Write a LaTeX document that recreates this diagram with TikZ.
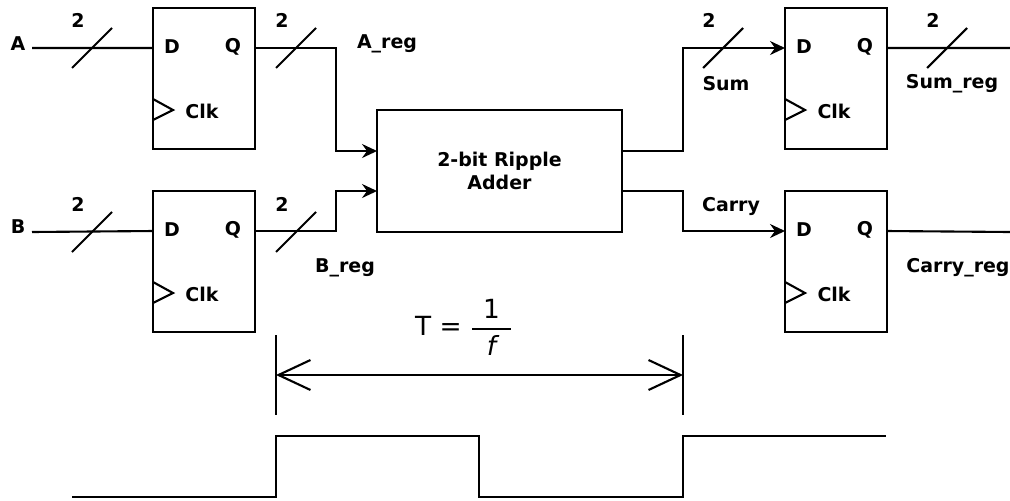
\documentclass[tikz,border=0pt]{standalone}
\usepackage{fontspec}
\usepackage{amsmath}
\setmainfont{DejaVu Sans}
\usetikzlibrary{arrows.meta,positioning,calc}

\tikzset{
  wire/.style={line width=1.2pt},
  ff/.style={draw, line width=1.2pt, minimum width=2.04cm, minimum height=2.82cm, inner sep=0pt, outer sep=0pt},
  lbl/.style={font=\bfseries\fontsize{10.8}{13}\selectfont, inner sep=1pt},
  tip/.style={-{Stealth[length=3mm,width=2.8mm,inset=1mm]}},
  busslash/.pic={
    \draw[wire] (-20,20) -- (20,-20);
    \node[lbl] (-n) at (-14,-28) {2};
  }
}

\begin{document}
\begin{tikzpicture}[x=0.02cm, y=-0.02cm]
\useasboundingbox (0,0) rectangle (1010,500);

    % registers
    \node[ff] (ffa) at (204,78.5) {};
    \node[ff] (ffb) at (204,261.5) {};
    \node[ff] (ffs) at (836,78.5) {};
    \node[ff] (ffc) at (836,261.5) {};

    \foreach \f in {ffa,ffb,ffs,ffc} {
      \node[lbl] (\f-d) at ($(\f.north west)+(19,39)$) {D};
      \node[lbl] (\f-q) at ($(\f.north west)+(80,39)$) {Q};
      \node[lbl] (\f-clk) at ($(\f.north west)+(49,103)$) {Clk};
      \draw[wire] ($(\f.north west)+(0,91)$) -- ++(20,11) -- ++(-20,10);
      \coordinate (\f-din) at ($(\f.north west)+(0,40)$);
      \coordinate (\f-qout) at ($(\f.north east)+(0,40)$);
    }

    % adder
    \node[draw, line width=1.2pt, minimum width=4.9cm, minimum height=2.44cm, outer sep=0pt,
          align=center, font=\bfseries\fontsize{10.8}{13}\selectfont] (add) at (499.5,171)
          {2-bit Ripple\\Adder};
    \coordinate (add-a) at ($(add.north west)+(0,41)$);
    \coordinate (add-b) at ($(add.north west)+(0,81)$);
    \coordinate (add-s) at ($(add.north east)+(0,41)$);
    \coordinate (add-c) at ($(add.north east)+(0,81)$);

    % inputs
    \node[lbl] (a) at (18,44) {A};
    \node[lbl] (b) at (18,227) {B};
    \coordinate (a-in) at (32,48);
    \coordinate (b-in) at (32,232);
    \draw[wire] (a-in) -- (ffa-din);
    \draw[wire] (b-in) -- (ffb-din);
    \pic (sa) at (92,48) {busslash};
    \pic (sb) at (92,232) {busslash};

    % registers -> adder
    \draw[wire, tip] (ffa-qout) -- ++(81,0) |- (add-a);
    \draw[wire, tip] (ffb-qout) -- ++(81,0) |- (add-b);
    \pic (sar) at (296,48) {busslash};
    \pic (sbr) at (296,232) {busslash};
    \node[lbl] (areg) at (387,44) {A\_reg};
    \node[lbl] (breg) at (345,268) {B\_reg};

    % adder -> registers
    \draw[wire, tip] (add-s) -- ++(61,0) |- (ffs-din);
    \draw[wire, tip] (add-c) -- ++(61,0) |- (ffc-din);
    \pic (ss) at (723,48) {busslash};
    \node[lbl] (sum) at (726,84) {Sum};
    \node[lbl] (carry) at (731,207) {Carry};

    % outputs
    \coordinate (sreg-out) at (1010,48);
    \coordinate (creg-out) at (1010,232);
    \draw[wire] (ffs-qout) -- (sreg-out);
    \draw[wire] (ffc-qout) -- (creg-out);
    \pic (ssr) at (947,48) {busslash};
    \node[lbl] (sumreg) at (952,84) {Sum\_reg};
    \node[lbl] (carryreg) at (958,268) {Carry\_reg};

    % period
    \coordinate (t1) at (276,335);
    \coordinate (t2) at (683,335);
    \draw[wire] (t1) -- ++(0,80);
    \draw[wire] (t2) -- ++(0,80);
    \coordinate (tl) at (276,375);
    \coordinate (tr) at (683,375);
    \draw[wire, {Straight Barb[length=6.4mm,width=6mm]}-{Straight Barb[length=6.4mm,width=6mm]}] (tl) -- (tr);
    \node[font=\fontsize{15}{17}\selectfont] (period) at (464,327)
      {T = $\genfrac{}{}{1pt}{0}{\text{\makebox[22pt]{1}}}{\text{\itshape f}}$};

    % clock
    \draw[wire] (72,497) -- (276,497) -- (276,436) -- (479,436) -- (479,497)
      -- (683,497) -- (683,436) -- (886,436);

\end{tikzpicture}
\end{document}
